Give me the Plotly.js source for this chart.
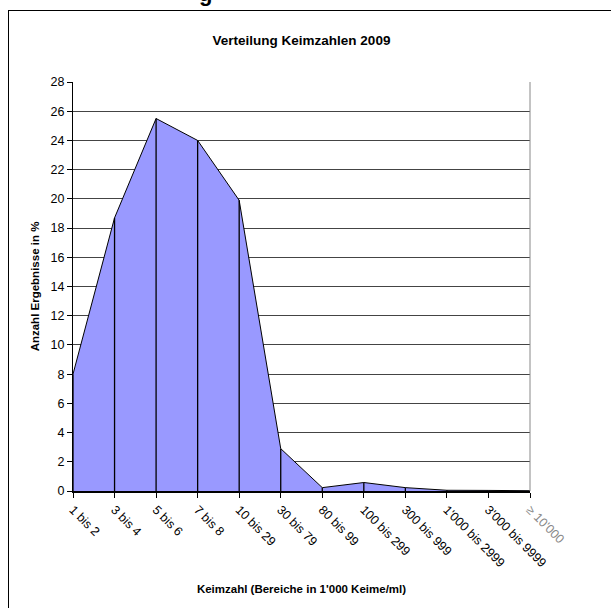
<!DOCTYPE html>
<html>
<head>
<meta charset="utf-8">
<script src="https://cdn.plot.ly/plotly-3.0.1.min.js"></script>
<style>
  html, body { margin: 0; padding: 0; background: #fff; width: 611px; height: 608px; overflow: hidden; }
  #frame { position: absolute; left: 8px; top: 10px; width: 603px; height: 598px;
           border-top: 1.5px solid #000; border-left: 1.5px solid #000; box-sizing: border-box; }
  #chart { position: absolute; left: 0; top: 0; width: 601px; height: 596px; }
  #head { position: absolute; left: 199px; top: -19px; font: bold 22px "Liberation Sans", Arial, sans-serif; color: #000; }
</style>
</head>
<body>
<div id="head">g</div>
<div id="frame"><div id="chart"></div></div>
<script>
const categories = ["1 bis 2", "3 bis 4", "5 bis 6", "7 bis 8", "10 bis 29", "30 bis 79",
  "80 bis 99", "100 bis 299", "300 bis 999", "1'000 bis 2999", "3'000 bis 9999", "≥ 10'000"];
const percentages = [8.0, 18.7, 25.5, 24.0, 19.9, 2.9, 0.23, 0.58, 0.23, 0.05, 0.04, 0.02];
const tickLabels = ["1 bis 2", "3 bis 4", "5 bis 6", "7 bis 8", "10 bis 29", "30 bis 79",
  "80 bis 99", "100 bis 299", "300 bis 999", "1'000 bis 2999", "3'000 bis 9999",
  "<span style='color:#888'>≥ 10'000</span>"];

const dropX = [], dropY = [];
categories.forEach((c, i) => { dropX.push(c, c, null); dropY.push(0, percentages[i], null); });

const traces = [
  { type: "scatter", mode: "lines", x: categories, y: percentages, fill: "tozeroy",
    fillcolor: "#9999FF", line: { color: "#000", width: 1 }, hoverinfo: "x+y", showlegend: false },
  { type: "scatter", mode: "lines", x: dropX, y: dropY,
    line: { color: "#000", width: 1.3 }, hoverinfo: "skip", showlegend: false }
];

const font = { family: "Liberation Sans, Arial, sans-serif", color: "#000" };
const layout = {
  width: 601, height: 596,
  margin: { l: 64, r: 80, t: 71, b: 116 },
  paper_bgcolor: "#fff", plot_bgcolor: "#fff",
  font: Object.assign({ size: 12 }, font),
  title: { text: "<b>Verteilung Keimzahlen 2009</b>", font: Object.assign({ size: 13.5 }, font),
           x: 0.5, xref: "paper", xanchor: "center", y: 0.951, yanchor: "middle" },
  xaxis: {
    type: "category", categoryorder: "array", categoryarray: categories,
    range: [0, categories.length - 1],
    tickmode: "array", tickvals: categories, ticktext: tickLabels,
    tickangle: 45, ticks: "outside", ticklen: 5, tickcolor: "#000",
    showline: true, linecolor: "#000", linewidth: 1.5, showgrid: false, zeroline: false,
    tickfont: Object.assign({ size: 12.5 }, font),
    title: { text: "<b>Keimzahl (Bereiche in 1'000 Keime/ml)</b>", font: Object.assign({ size: 11.5 }, font), standoff: 16 }
  },
  yaxis: {
    range: [0, 28], dtick: 2, tick0: 0, ticks: "outside", ticklen: 5, tickcolor: "#000",
    showline: true, linecolor: "#000", linewidth: 1, showgrid: true, gridcolor: "#444", gridwidth: 1,
    zeroline: false, tickfont: Object.assign({ size: 12.5 }, font),
    title: { text: "<b>Anzahl Ergebnisse in %</b>", font: Object.assign({ size: 11.5 }, font), standoff: 8 }
  },
  shapes: [
    { type: "line", xref: "paper", yref: "paper", x0: 1, x1: 1, y0: 0, y1: 1, line: { color: "#888", width: 1 } }
  ]
};

Plotly.newPlot("chart", traces, layout, { displayModeBar: false, staticPlot: true });
</script>
</body>
</html>
